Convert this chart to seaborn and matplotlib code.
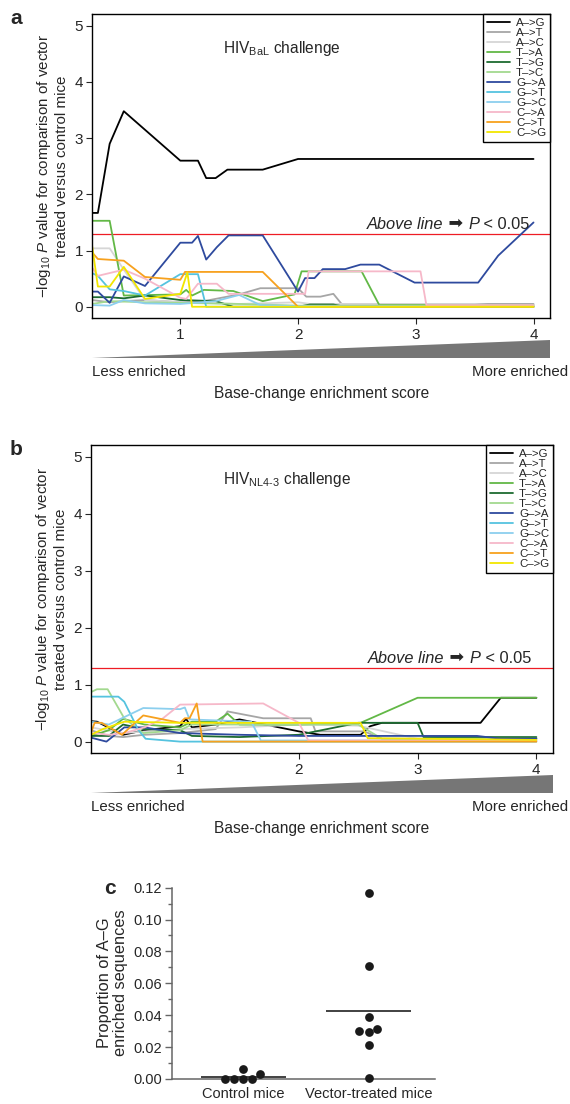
import numpy as np
import pandas as pd
import matplotlib
matplotlib.use("Agg")
import matplotlib.pyplot as plt
import seaborn as sns

# base changes and their colours
changes = ["A\u2013>G", "A\u2013>T", "A\u2013>C", "T\u2013>A", "T\u2013>G", "T\u2013>C",
           "G\u2013>A", "G\u2013>T", "G\u2013>C", "C\u2013>A", "C\u2013>T", "C\u2013>G"]
colors = ["#000000", "#a6a6a6", "#d6d6d6", "#62b846", "#1c6b30", "#a3d98f",
          "#2e4a9e", "#55c3df", "#8ccfee", "#f6b8c9", "#f7a11e", "#f2e600"]

# panel a: HIV BaL challenge, (enrichment score, -log10 P)
a_AG = [(0.25, 1.67), (0.30, 1.67), (0.40, 2.90), (0.52, 3.48), (1.00, 2.60), (1.15, 2.60),
        (1.22, 2.29), (1.30, 2.29), (1.40, 2.44), (1.70, 2.44), (2.00, 2.63), (4.00, 2.63)]
a_AT = [(0.25, 0.12), (0.40, 0.08), (0.52, 0.10), (0.70, 0.12), (1.00, 0.08), (1.20, 0.10),
        (1.50, 0.22), (1.68, 0.33), (2.00, 0.33), (2.07, 0.18), (2.19, 0.18), (2.30, 0.23),
        (2.37, 0.05), (4.00, 0.05)]
a_AC = [(0.25, 1.04), (0.40, 1.04), (0.52, 0.66), (0.70, 0.12), (1.00, 0.08), (1.50, 0.05),
        (2.00, 0.08), (2.10, 0.05), (3.50, 0.05), (3.70, 0.02), (4.00, 0.02)]
a_TA = [(0.25, 1.53), (0.40, 1.53), (0.52, 0.20), (1.00, 0.22), (1.05, 0.30), (1.10, 0.20),
        (1.20, 0.30), (1.45, 0.28), (1.70, 0.10), (1.97, 0.22), (2.03, 0.63), (2.54, 0.63),
        (2.69, 0.03), (4.00, 0.03)]
a_TG = [(0.25, 0.17), (0.40, 0.17), (0.52, 0.15), (0.70, 0.20), (1.00, 0.12), (1.30, 0.10),
        (1.45, 0.00), (2.00, 0.00), (2.10, 0.04), (2.30, 0.04), (2.40, 0.00), (4.00, 0.00)]
a_TC = [(0.25, 0.05), (0.40, 0.10), (0.70, 0.08), (1.00, 0.07), (1.50, 0.05), (2.00, 0.02),
        (4.00, 0.02)]
a_GA = [(0.25, 0.27), (0.30, 0.27), (0.40, 0.07), (0.52, 0.54), (0.70, 0.37), (1.00, 1.14),
        (1.10, 1.14), (1.15, 1.26), (1.22, 0.84), (1.31, 1.06), (1.41, 1.27), (1.70, 1.27),
        (2.00, 0.27), (2.06, 0.51), (2.14, 0.51), (2.21, 0.67), (2.40, 0.67), (2.53, 0.75),
        (2.69, 0.75), (2.99, 0.43), (3.53, 0.43), (3.70, 0.91), (4.00, 1.50)]
a_GT = [(0.25, 0.60), (0.30, 0.55), (0.40, 0.31), (0.52, 0.28), (0.70, 0.20), (1.00, 0.58),
        (1.15, 0.58), (1.22, 0.00), (4.00, 0.00)]
a_GC = [(0.25, 0.03), (0.40, 0.02), (0.52, 0.12), (0.70, 0.06), (1.00, 0.05), (1.30, 0.10),
        (1.50, 0.21), (1.68, 0.03), (2.00, 0.01), (4.00, 0.00)]
a_CA = [(0.25, 0.70), (0.30, 0.55), (0.40, 0.60), (0.52, 0.66), (0.70, 0.50), (1.00, 0.16),
        (1.05, 0.14), (1.15, 0.41), (1.31, 0.41), (1.41, 0.23), (2.06, 0.23), (2.09, 0.63),
        (3.04, 0.63), (3.09, 0.03), (4.00, 0.03)]
a_CT = [(0.25, 0.97), (0.30, 0.85), (0.52, 0.82), (0.70, 0.53), (1.00, 0.48), (1.04, 0.62),
        (1.70, 0.62), (2.00, 0.00), (4.00, 0.00)]
a_CG = [(0.25, 1.10), (0.30, 0.36), (0.40, 0.36), (0.52, 0.71), (0.70, 0.14), (1.00, 0.23),
        (1.06, 0.61), (1.10, 0.00), (4.00, 0.00)]

# panel b: HIV NL4-3 challenge
b_AG = [(0.25, 0.36), (0.30, 0.35), (0.52, 0.12), (0.70, 0.20), (1.00, 0.27), (1.05, 0.40),
        (1.10, 0.25), (1.30, 0.30), (1.50, 0.39), (2.00, 0.18), (2.18, 0.12), (2.52, 0.12),
        (2.60, 0.27), (2.70, 0.33), (3.53, 0.33), (3.70, 0.77), (4.00, 0.77)]
b_AT = [(0.25, 0.20), (0.40, 0.10), (0.52, 0.08), (0.70, 0.12), (1.00, 0.15), (1.30, 0.22),
        (1.40, 0.53), (1.70, 0.41), (2.10, 0.41), (2.14, 0.18), (2.55, 0.18), (2.70, 0.05),
        (4.00, 0.05)]
b_AC = [(0.25, 0.25), (0.52, 0.15), (1.00, 0.22), (1.50, 0.25), (2.00, 0.30), (2.50, 0.28),
        (3.00, 0.05), (4.00, 0.05)]
b_TA = [(0.25, 0.10), (0.40, 0.20), (0.52, 0.40), (0.70, 0.30), (1.00, 0.25), (1.10, 0.35),
        (1.30, 0.35), (1.40, 0.49), (1.50, 0.30), (2.00, 0.30), (2.52, 0.33), (3.00, 0.77),
        (4.00, 0.77)]
b_TG = [(0.25, 0.10), (0.40, 0.10), (0.52, 0.30), (0.70, 0.22), (1.00, 0.20), (1.10, 0.10),
        (1.50, 0.08), (2.00, 0.12), (2.50, 0.33), (3.00, 0.33), (3.05, 0.08), (4.00, 0.08)]
b_TC = [(0.25, 0.87), (0.30, 0.92), (0.39, 0.92), (0.53, 0.41), (0.69, 0.15), (1.00, 0.20),
        (1.10, 0.30), (2.50, 0.30), (2.70, 0.05), (4.00, 0.05)]
b_GA = [(0.25, 0.07), (0.38, 0.00), (0.53, 0.25), (0.70, 0.25), (1.00, 0.15), (1.50, 0.12),
        (2.00, 0.10), (3.50, 0.10), (3.70, 0.05), (4.00, 0.05)]
b_GT = [(0.25, 0.79), (0.48, 0.79), (0.53, 0.70), (0.65, 0.20), (0.71, 0.05), (1.00, 0.00),
        (4.00, 0.00)]
b_GC = [(0.25, 0.35), (0.40, 0.30), (0.69, 0.59), (1.00, 0.57), (1.04, 0.60), (1.08, 0.39),
        (1.60, 0.35), (1.68, 0.02), (4.00, 0.02)]
b_CA = [(0.25, 0.15), (0.40, 0.12), (0.53, 0.15), (0.70, 0.25), (0.85, 0.40), (1.00, 0.65),
        (1.70, 0.67), (2.00, 0.33), (2.08, 0.02), (4.00, 0.02)]
b_CT = [(0.25, 0.15), (0.28, 0.33), (0.34, 0.33), (0.51, 0.12), (0.69, 0.46), (1.00, 0.33),
        (1.04, 0.41), (1.08, 0.41), (1.14, 0.67), (1.19, 0.00), (4.00, 0.00)]
b_CG = [(0.25, 0.12), (0.35, 0.22), (0.53, 0.35), (1.00, 0.33), (2.52, 0.33), (2.58, 0.06),
        (4.00, 0.03)]

# panel c: proportion of A-G enriched sequences per mouse
control_mice = [0.003, 0.0, 0.0, 0.0, 0.0, 0.006]
vector_mice = [0.1165, 0.0709, 0.0387, 0.0297, 0.0301, 0.0314, 0.0211, 0.0004]
groups = ["Control mice", "Vector-treated mice"]

p_cut = 0.05

sns.set_theme(style="ticks")
plt.rcParams['font.family'] = ['Liberation Sans', 'DejaVu Sans']
plt.rcParams['mathtext.fontset'] = 'custom'
plt.rcParams['mathtext.rm'] = 'Liberation Sans'
plt.rcParams['mathtext.it'] = 'Liberation Sans:italic'

W, H = 570, 1104
fig = plt.figure(figsize=(W / 100, H / 100), dpi=100)


def rect(left, top, right, bottom):
    # pixel box -> figure fraction
    return [left / W, 1 - bottom / H, (right - left) / W, (bottom - top) / H]


def to_long(series):
    rows = []
    for lab, pts in zip(changes, series):
        for x, y in pts:
            rows.append((lab, x, y))
    return pd.DataFrame(rows, columns=["change", "score", "logp"])


def line_panel(box, series, title, letter):
    left, top, right, bottom = box
    ax = fig.add_axes(rect(*box))
    df = to_long(series)
    ax.axhline(-np.log10(p_cut), color="#ee1c24", lw=0.9, zorder=1.5)
    sns.lineplot(data=df, x="score", y="logp", hue="change", hue_order=changes,
                 palette=dict(zip(changes, colors)), estimator=None, sort=False,
                 lw=1.3, ax=ax)
    ax.set_xlim(0.25, 4.14)
    ax.set_ylim(-0.2, 5.21)
    ax.set_xticks([1, 2, 3, 4])
    ax.set_yticks([0, 1, 2, 3, 4, 5])
    ax.set_xlabel("")
    ax.set_ylabel("\u2212log$_{10}$ $\\mathit{P}$ value for comparison of vector\n"
                  "treated versus control mice", fontsize=10.9, labelpad=4,
                  linespacing=1.15)
    for s in ax.spines.values():
        s.set_color("black")
        s.set_linewidth(1.0)
    ax.tick_params(direction="out", length=4.5, width=0.8, labelsize=11, pad=2)
    ax.tick_params(axis="x", pad=3)

    handles, labels = ax.get_legend_handles_labels()
    leg = ax.legend(handles, labels, loc="upper right", borderaxespad=0, fancybox=False,
                    edgecolor="black", framealpha=1, fontsize=8.2, handlelength=2.0,
                    handletextpad=0.5, labelspacing=0.0, borderpad=0.35)
    leg.get_frame().set_linewidth(1.0)

    ax.text(1.36, 4.6, title, fontsize=11.2, va="center", ha="left")

    # "Above line -> P < 0.05" note
    t1 = ax.text(2.58, 1.33, "Above line", style="italic", fontsize=11.8, va="bottom")
    t2 = ax.annotate(" \u27a1 ", xy=(1, 0), xycoords=t1, va="bottom", fontsize=12.5,
                     family=["DejaVu Sans"])
    t3 = ax.annotate("P", xy=(1, 0), xycoords=t2, va="bottom", fontsize=11.8, style="italic")
    ax.annotate(" < 0.05", xy=(1, 0), xycoords=t3, va="bottom", fontsize=11.8)

    # enrichment wedge under the x axis
    axw = fig.add_axes(rect(left, bottom + 22, right, bottom + 40))
    axw.fill([0, 1, 1], [0, 0, 1], color="#767676", lw=0)
    axw.set_xlim(0, 1)
    axw.set_ylim(0, 1)
    axw.axis("off")
    fig.text(left / W, 1 - (bottom + 54) / H, "Less enriched", fontsize=10.8,
             va="center", ha="left")
    fig.text(568 / W, 1 - (bottom + 54) / H, "More enriched", fontsize=10.8,
             va="center", ha="right")
    fig.text(322 / W, 1 - (bottom + 76) / H, "Base-change enrichment score", fontsize=11.2,
             va="center", ha="center")
    fig.text(10 / W, 1 - (top + 5) / H, letter, fontsize=15, fontweight="bold",
             va="center", ha="left")
    return ax


title_a = "HIV$_{\\mathrm{BaL}}$ challenge"
title_b = "HIV$_{\\mathrm{NL4\u20113}}$ challenge"

line_panel((92, 14, 550, 318),
           [a_AG, a_AT, a_AC, a_TA, a_TG, a_TC, a_GA, a_GT, a_GC, a_CA, a_CT, a_CG],
           title_a, "a")
line_panel((91, 445, 553, 753),
           [b_AG, b_AT, b_AC, b_TA, b_TG, b_TC, b_GA, b_GT, b_GC, b_CA, b_CT, b_CG],
           title_b, "b")

# panel c
axc = fig.add_axes(rect(171.7, 880, 435, 1085))
dfc = pd.DataFrame({"group": [groups[0]] * len(control_mice) + [groups[1]] * len(vector_mice),
                    "prop": control_mice + vector_mice})
sns.swarmplot(data=dfc, x="group", y="prop", order=groups, color="#1a1a1a", size=6.3,
              ax=axc, zorder=3)
for i, vals in enumerate([control_mice, vector_mice]):
    axc.hlines(np.mean(vals), i - 0.34, i + 0.34, color="#333333", lw=1.3, zorder=2)
axc.set_xlim(-0.57, 1.53)
axc.set_ylim(-0.0038, 0.1248)
axc.set_yticks(np.arange(0, 0.121, 0.02))
axc.set_yticks(np.arange(0.01, 0.12, 0.02), minor=True)
axc.set_yticklabels([f"{v:.2f}" for v in np.arange(0, 0.121, 0.02)])
axc.spines["top"].set_visible(False)
axc.spines["right"].set_visible(False)
axc.spines["left"].set_bounds(0, 0.12)
axc.spines["bottom"].set_position(("data", 0))
for s in ("left", "bottom"):
    axc.spines[s].set_color("#666666")
    axc.spines[s].set_linewidth(1.1)
axc.tick_params(axis="y", which="major", length=5, width=1, color="#666666", labelsize=10.5, pad=2)
axc.tick_params(axis="y", which="minor", length=3, width=1, color="#666666")
axc.tick_params(axis="x", length=0, labelsize=10.5, pad=6)
axc.set_xlabel("")
axc.set_ylabel("Proportion of A\u2013G\nenriched sequences", fontsize=11.8, linespacing=1.05,
               labelpad=4)
fig.text(104 / W, 1 - 888 / H, "c", fontsize=15, fontweight="bold", va="center", ha="left")

fig.savefig("out.png", dpi=100)
